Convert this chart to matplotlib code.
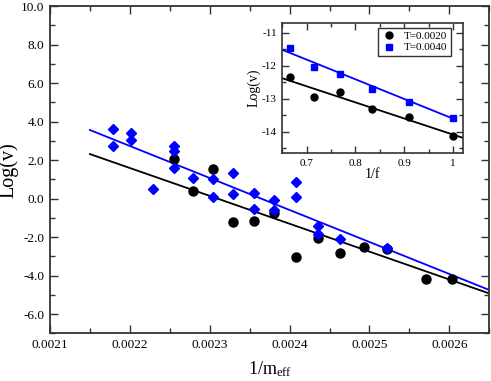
import numpy as np
import matplotlib
matplotlib.use('Agg')
import matplotlib.pyplot as plt
from matplotlib.ticker import MultipleLocator, FormatStrFormatter

plt.rcParams['font.family'] = ['Liberation Serif', 'DejaVu Serif']
plt.rcParams['mathtext.fontset'] = 'custom'
plt.rcParams['mathtext.rm'] = 'Liberation Serif'
plt.rcParams['mathtext.it'] = 'Liberation Serif:italic'
plt.rcParams['axes.unicode_minus'] = False

# main panel: black circles
blk_x = [0.002255, 0.002279, 0.002304, 0.002329, 0.002355, 0.002380, 0.002408,
         0.002435, 0.002463, 0.002493, 0.002522, 0.002571, 0.002603]
blk_y = [2.05, 0.41, 1.53, -1.20, -1.19, -0.74, -3.02,
         -2.04, -2.85, -2.52, -2.60, -4.18, -4.18]

# main panel: blue diamonds
blu_x = [0.002179, 0.002179, 0.002201, 0.002201, 0.002229, 0.002255, 0.002255,
         0.002255, 0.002279, 0.002304, 0.002304, 0.002329, 0.002329, 0.002355,
         0.002355, 0.002380, 0.002380, 0.002408, 0.002408, 0.002435, 0.002435,
         0.002463, 0.002522]
blu_y = [3.59, 2.74, 3.39, 3.04, 0.48, 2.74, 2.48,
         1.57, 1.08, 1.01, 0.09, 1.32, 0.26, 0.30,
         -0.54, -0.10, -0.60, 0.86, 0.06, -1.45, -1.86,
         -2.09, -2.58]

# fitted lines (end points)
fit_x = [0.00215, 0.00265]
fit_blk = [2.31, -4.93]
fit_blu = [3.56, -4.75]

# inset
inv_f = [1/1.5, 1/1.4, 1/1.3, 1/1.2, 1/1.1, 1.0]
ins_blk = [-12.34, -12.95, -12.81, -13.31, -13.54, -14.13]
ins_blu = [-11.47, -12.05, -12.25, -12.70, -13.10, -13.59]
ins_fit_blk_x = [0.65, 1.02]
ins_fit_blk = [-12.38, -14.18]
ins_fit_blu_x = [0.65, 1.0]
ins_fit_blu = [-11.52, -13.60]

BLUE = '#0000ff'
FRAME = '#333333'

fig = plt.figure(figsize=(4.91, 3.81), dpi=100)
ax = fig.add_axes([0.1018, 0.1252, 0.8947, 0.859])

ax.plot(fit_x, fit_blu, color=BLUE, lw=1.3, zorder=2)
ax.plot(fit_x, fit_blk, color='black', lw=1.3, zorder=2)
ax.plot(blk_x, blk_y, 'o', color='black', ms=6.5, zorder=3)
ax.plot(blu_x, blu_y, 'D', color=BLUE, ms=4.8, zorder=4)

ax.set_xlim(0.0021, 0.00265)
ax.set_ylim(-7, 10)
ax.set_xticks(np.arange(0.0021, 0.00261, 0.0001))
ax.set_yticks(np.arange(-6, 11, 2))
ax.xaxis.set_minor_locator(MultipleLocator(0.00005))
ax.yaxis.set_minor_locator(MultipleLocator(1))
ax.xaxis.set_major_formatter(FormatStrFormatter('%.4f'))
ax.yaxis.set_major_formatter(FormatStrFormatter('%.1f'))
ax.tick_params(which='both', direction='in', top=True, right=True,
               labelsize=9.5, color=FRAME)
ax.tick_params(which='major', length=6, width=1, pad=4)
ax.tick_params(which='minor', length=3.5, width=1)
for s in ax.spines.values():
    s.set_linewidth(1.3)
    s.set_color(FRAME)
ax.set_xlabel('1/m$_{\\mathrm{eff}}$', fontsize=13, labelpad=6)
ax.set_ylabel('Log(v)', fontsize=14.5, labelpad=2)

# inset
ins = fig.add_axes([0.575, 0.5976, 0.3674, 0.3428])
ins.plot(ins_fit_blu_x, ins_fit_blu, color=BLUE, lw=1.3)
ins.plot(ins_fit_blk_x, ins_fit_blk, color='black', lw=1.3)
ins.plot(inv_f, ins_blk, 'o', color='black', ms=5, label='T=0.0020')
ins.plot(inv_f, ins_blu, 's', color=BLUE, ms=4.5, label='T=0.0040')
ins.set_xlim(0.65, 1.02)
ins.set_ylim(-14.65, -10.7)
ins.set_xticks([0.7, 0.8, 0.9, 1.0])
ins.set_xticklabels(['0.7', '0.8', '0.9', '1'])
ins.set_yticks([-14, -13, -12, -11])
ins.xaxis.set_minor_locator(MultipleLocator(0.05))
ins.yaxis.set_minor_locator(MultipleLocator(0.5))
ins.tick_params(which='both', direction='in', top=True, right=True,
                labelsize=8, color=FRAME)
ins.tick_params(which='major', length=5, width=1, pad=4)
ins.tick_params(which='minor', length=3, width=1)
for s in ins.spines.values():
    s.set_linewidth(1.2)
    s.set_color(FRAME)
ins.set_xlabel('1/f', fontsize=10, labelpad=0)
ins.set_ylabel('Log(v)', fontsize=10, labelpad=1)
leg = ins.legend(loc='upper right', bbox_to_anchor=(0.935, 0.96),
                 fontsize=8, fancybox=False, edgecolor=FRAME, framealpha=1,
                 handlelength=1.5, borderpad=0.3, labelspacing=0.15,
                 handletextpad=0.6, borderaxespad=0)
leg.get_frame().set_linewidth(1)

fig.savefig('out.png', dpi=100)
